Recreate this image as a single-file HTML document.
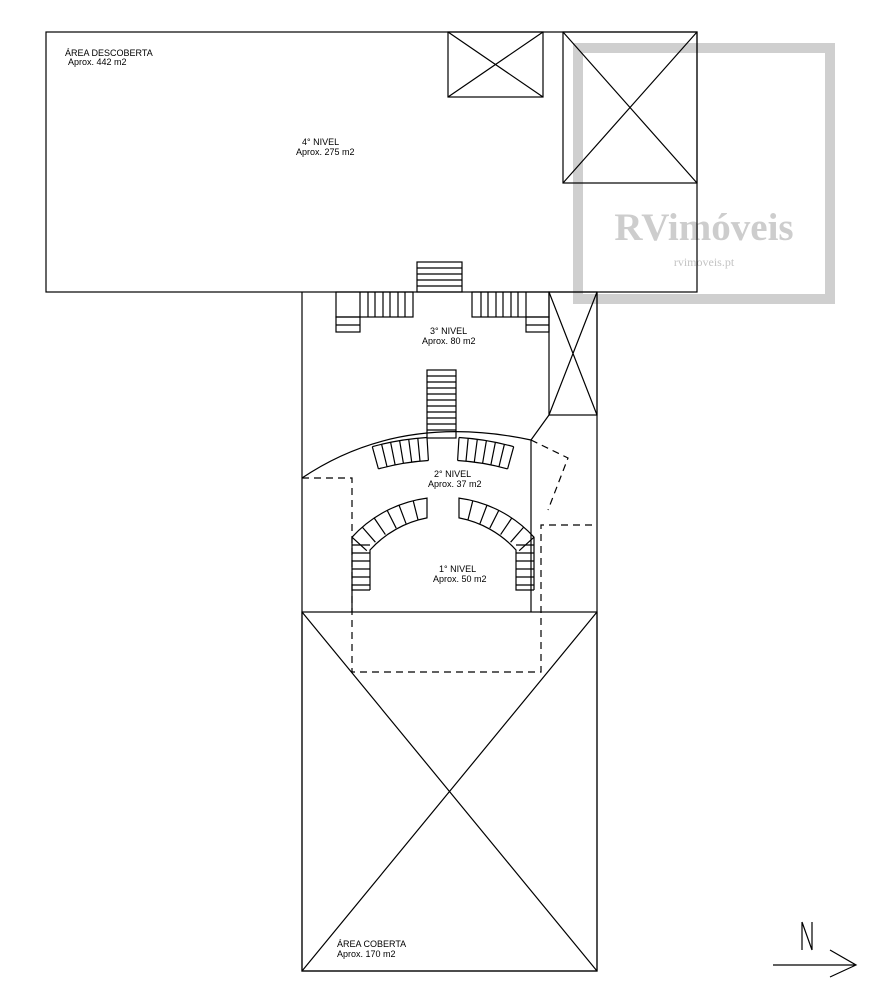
<!DOCTYPE html>
<html><head><meta charset="utf-8"><style>
html,body{margin:0;padding:0;background:#fff;width:871px;height:1000px;overflow:hidden}
svg{display:block}
text{font-family:"Liberation Sans",sans-serif;font-size:9px;fill:#000}
</style></head><body>
<svg width="871" height="1000" viewBox="0 0 871 1000" xmlns="http://www.w3.org/2000/svg">
<!-- watermark -->
<rect x="578" y="48" width="252" height="251" fill="none" stroke="#cfcfcf" stroke-width="10"/>
<text x="704" y="240" text-anchor="middle" style="font-family:'Liberation Serif',serif;font-size:39px;fill:#cdcdcd;font-weight:bold">RVimóveis</text>
<text x="704" y="266" text-anchor="middle" style="font-family:'Liberation Serif',serif;font-size:12px;fill:#c4c4c4">rvimoveis.pt</text>
<g stroke="#000" stroke-width="1.2" fill="none">
<rect x="46" y="32" width="651" height="260"/>
<rect x="448" y="32" width="95" height="65"/>
<path d="M448 32L543 97M543 32L448 97"/>
<rect x="563" y="32" width="134" height="151"/>
<path d="M563 32L697 183M697 32L563 183"/>
<path d="M302 292V971H597V292"/>
<rect x="549" y="292" width="48" height="123"/>
<path d="M549 292L597 415M597 292L549 415"/>
<path d="M549 415L531 440"/>
<rect x="417" y="262" width="45" height="30"/>
<path d="M417 268H462M417 274H462M417 280H462M417 286H462"/>
<rect x="336" y="292" width="77" height="25"/>
<path d="M360 292V317M368 292V317M375 292V317M383 292V317M390 292V317M398 292V317M405 292V317"/>
<rect x="336" y="317" width="24" height="15"/><path d="M336 325H360"/>
<rect x="472" y="292" width="77" height="25"/>
<path d="M526 292V317M518 292V317M511 292V317M503 292V317M496 292V317M488 292V317M481 292V317"/>
<rect x="526" y="317" width="23" height="15"/><path d="M526 325H549"/>
<rect x="427" y="370" width="29" height="68"/>
<path d="M427 376H456M427 382H456M427 388H456M427 394H456M427 400H456M427 406H456M427 412H456M427 418H456M427 424H456M427 430H456"/>
<path d="M302 478Q400 412 531 440"/>
<path d="M372.3 446.7A263 263 0 0 1 427 437.5M378.4 468.9A240 240 0 0 1 428.4 460.5"/>
<path d="M372.3 446.7L378.4 468.9M381.6 444.3L387 466.6M390.6 442.3L395.1 464.8M399.6 440.6L403.4 463.3M408.7 439.3L411.7 462.1M417.8 438.2L420 461.1M427 437.5L428.4 460.5"/>
<path d="M459 437.5A263 263 0 0 1 513.7 446.7M457.6 460.5A240 240 0 0 1 507.6 468.9"/>
<path d="M513.7 446.7L507.6 468.9M504.4 444.3L499 466.6M495.4 442.3L490.9 464.8M486.4 440.6L482.6 463.3M477.3 439.3L474.3 462.1M468.2 438.2L466 461.1M459 437.5L457.6 460.5"/>
<path d="M352 612V537.2A123 123 0 0 1 427 498.1V517.9A103 103 0 0 0 370 550V590"/>
<path d="M352 537.2L366.8 550.7M362.3 527.1L375.4 542.2M374.2 518L385.4 534.6M387.2 510.4L396.2 528.2M399 505.1L406.1 523.8M413.2 500.7L418.1 520.1"/>
<path d="M352 545H370M352 553H370M352 561H370M352 569H370M352 577H370M352 585H370M352 590H370"/>
<path d="M534 590V537.2A123 123 0 0 0 459 498.1V517.9A103 103 0 0 1 516 550V590H534"/>
<path d="M534 537.2L519.2 550.7M523.7 527.1L510.6 542.2M511.8 518L500.6 534.6M498.8 510.4L489.8 528.2M487 505.1L479.9 523.8M472.8 500.7L467.9 520.1"/>
<path d="M516 545H534M516 553H534M516 561H534M516 569H534M516 577H534M516 585H534"/>
<path d="M531 440V612"/>
<rect x="302" y="612" width="295" height="359"/>
<path d="M302 612L597 971M597 612L302 971"/>
<path d="M773 965H856M830 950L856 965L830 977"/>
<path d="M802 922V950M812 922V950M802 922L812 950"/>
</g>
<g stroke="#000" stroke-width="1.2" fill="none" stroke-dasharray="7,5">
<path d="M302 478H352V672H541V525H597"/>
<path d="M531 440L568 458L548 510"/>
</g>
<text x="65" y="56">ÁREA DESCOBERTA</text>
<text x="68" y="65">Aprox. 442 m2</text>
<text x="302" y="145">4° NIVEL</text>
<text x="296" y="155">Aprox. 275 m2</text>
<text x="430" y="334">3° NIVEL</text>
<text x="422" y="344">Aprox. 80 m2</text>
<text x="434" y="477">2° NIVEL</text>
<text x="428" y="487">Aprox. 37 m2</text>
<text x="439" y="572">1° NIVEL</text>
<text x="433" y="582">Aprox. 50 m2</text>
<text x="337" y="947">ÁREA COBERTA</text>
<text x="337" y="957">Aprox. 170 m2</text>
</svg>
</body></html>
